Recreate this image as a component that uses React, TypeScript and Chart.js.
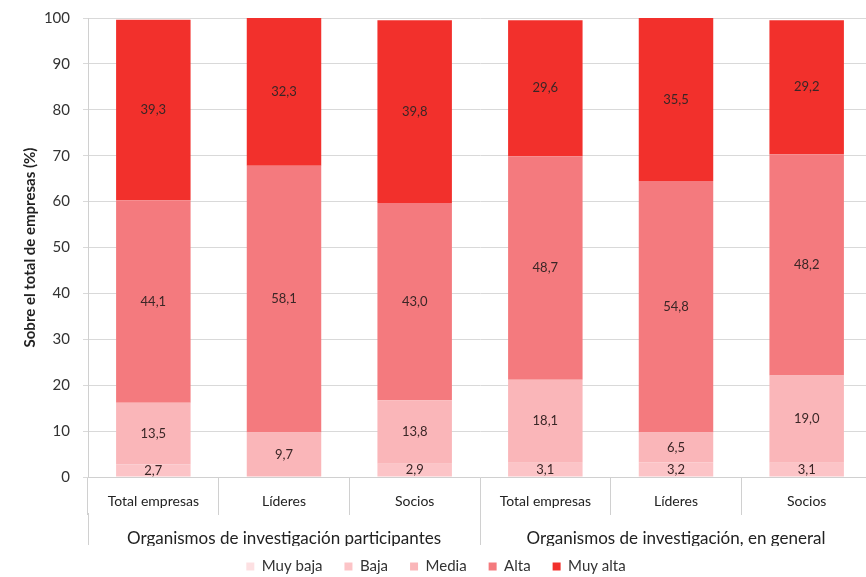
import React, { useEffect, useRef } from "react";
import { Chart, registerables } from "chart.js";

Chart.register(...registerables);

const categories = ["Total empresas", "Líderes", "Socios", "Total empresas", "Líderes", "Socios"];
const groups = ["Organismos de investigación participantes", "Organismos de investigación, en general"];
const seriesNames = ["Muy baja", "Baja", "Media", "Alta", "Muy alta"];
const muyBaja = [0, 0, 0, 0, 0, 0];
const baja = [2.7, 0, 2.9, 3.1, 3.2, 3.1];
const media = [13.5, 9.7, 13.8, 18.1, 6.5, 19.0];
const alta = [44.1, 58.1, 43.0, 48.7, 54.8, 48.2];
const muyAlta = [39.3, 32.3, 39.8, 29.6, 35.5, 29.2];
const yTicks = [0, 10, 20, 30, 40, 50, 60, 70, 80, 90, 100];

const colors = ["#fde0e2", "#fcc4c7", "#fab6b9", "#f47a7e", "#f2302c"];
const FONT = "Lato, 'Open Sans', sans-serif";

const dataLabelPlugin = {
  id: "segLabels",
  afterDatasetsDraw(chart: any) {
    const ctx = chart.ctx;
    ctx.save();
    ctx.font = `13px ${FONT}`;
    ctx.fillStyle = "#3a2626";
    ctx.textAlign = "center";
    ctx.textBaseline = "middle";
    chart.data.datasets.forEach((ds: any, di: number) => {
      const meta = chart.getDatasetMeta(di);
      if (meta.hidden) return;
      meta.data.forEach((el: any, i: number) => {
        const v = ds.data[i];
        if (!v) return;
        const y = (el.y + el.base) / 2;
        ctx.fillText(v.toFixed(1).replace(".", ","), el.x, y);
      });
    });
    ctx.restore();
  },
};

const legendPlacePlugin = {
  id: "legendPlace",
  afterInit(chart: any) {
    const lg = chart.legend;
    if (!lg) return;
    const orig = lg.fit.bind(lg);
    lg.fit = function () {
      orig();
      this.height = 31;
    };
  },
  afterLayout(chart: any) {
    const lg = chart.legend;
    if (!lg) return;
    lg.top -= 9;
    lg.height += 9;
  },
};

export default function App() {
  const ref = useRef<HTMLCanvasElement>(null);
  useEffect(() => {
    if (!ref.current) return;
    const series = [muyBaja, baja, media, alta, muyAlta];
    const chart = new Chart(ref.current, {
      type: "bar",
      data: {
        labels: categories,
        datasets: series.map((d, i) => ({
          label: seriesNames[i],
          data: d,
          backgroundColor: colors[i],
          borderWidth: 0,
          barPercentage: 0.57,
          categoryPercentage: 1,
        })),
      },
      options: {
        responsive: false,
        animation: false,
        layout: { padding: { top: 18, right: 0, bottom: 0, left: 0 } },
        plugins: {
          legend: {
            position: "bottom",
            labels: {
              boxWidth: 8,
              boxHeight: 8,
              padding: 22,
              color: "#333",
              font: { family: FONT, size: 15 },
            },
          },
          tooltip: { enabled: false },
        },
        scales: {
          x: {
            stacked: true,
            weight: 0,
            offset: true,
            grid: { display: true, drawOnChartArea: false, offset: true, tickLength: 38, color: "#d0d0d0" },
            border: { display: true, color: "#d0d0d0" },
            ticks: { color: "#222", padding: -22, font: { family: FONT, size: 14 }, maxRotation: 0, autoSkip: false },
            afterFit: (s: any) => { s.height = 36; },
          },
          x2: {
            type: "category",
            position: "bottom",
            labels: groups,
            weight: 1,
            offset: true,
            grid: { display: true, drawOnChartArea: false, offset: true, tickLength: 32, color: "#d0d0d0" },
            border: { display: false },
            ticks: { color: "#222", padding: -17, font: { family: FONT, size: 17 }, maxRotation: 0, autoSkip: false },
            afterFit: (s: any) => { s.height = 33; },
          },
          y: {
            stacked: true,
            min: 0,
            max: 100,
            afterBuildTicks: (s: any) => { s.ticks = yTicks.map((v) => ({ value: v })); },
            grid: { color: "#d9d9d9", tickLength: 5 },
            border: { display: true, color: "#d0d0d0" },
            ticks: { color: "#333", padding: 13, font: { family: FONT, size: 15 } },
            title: {
              display: true,
              text: "Sobre el total de empresas (%)",
              color: "#222",
              font: { family: FONT, size: 15, weight: "bold" },
              padding: { top: 21, bottom: 0 },
            },
            afterFit: (s: any) => { s.width = 88; s.paddingTop = 0; s.paddingBottom = 0; },
          },
        },
      },
      plugins: [dataLabelPlugin, legendPlacePlugin],
    });
    return () => chart.destroy();
  }, []);
  return (
    <div style={{ position: "fixed", left: 0, top: 0, width: 866, height: 577, overflow: "hidden", background: "#fff" }}>
      <canvas ref={ref} width={872} height={577} style={{ display: "block" }} />
    </div>
  );
}
